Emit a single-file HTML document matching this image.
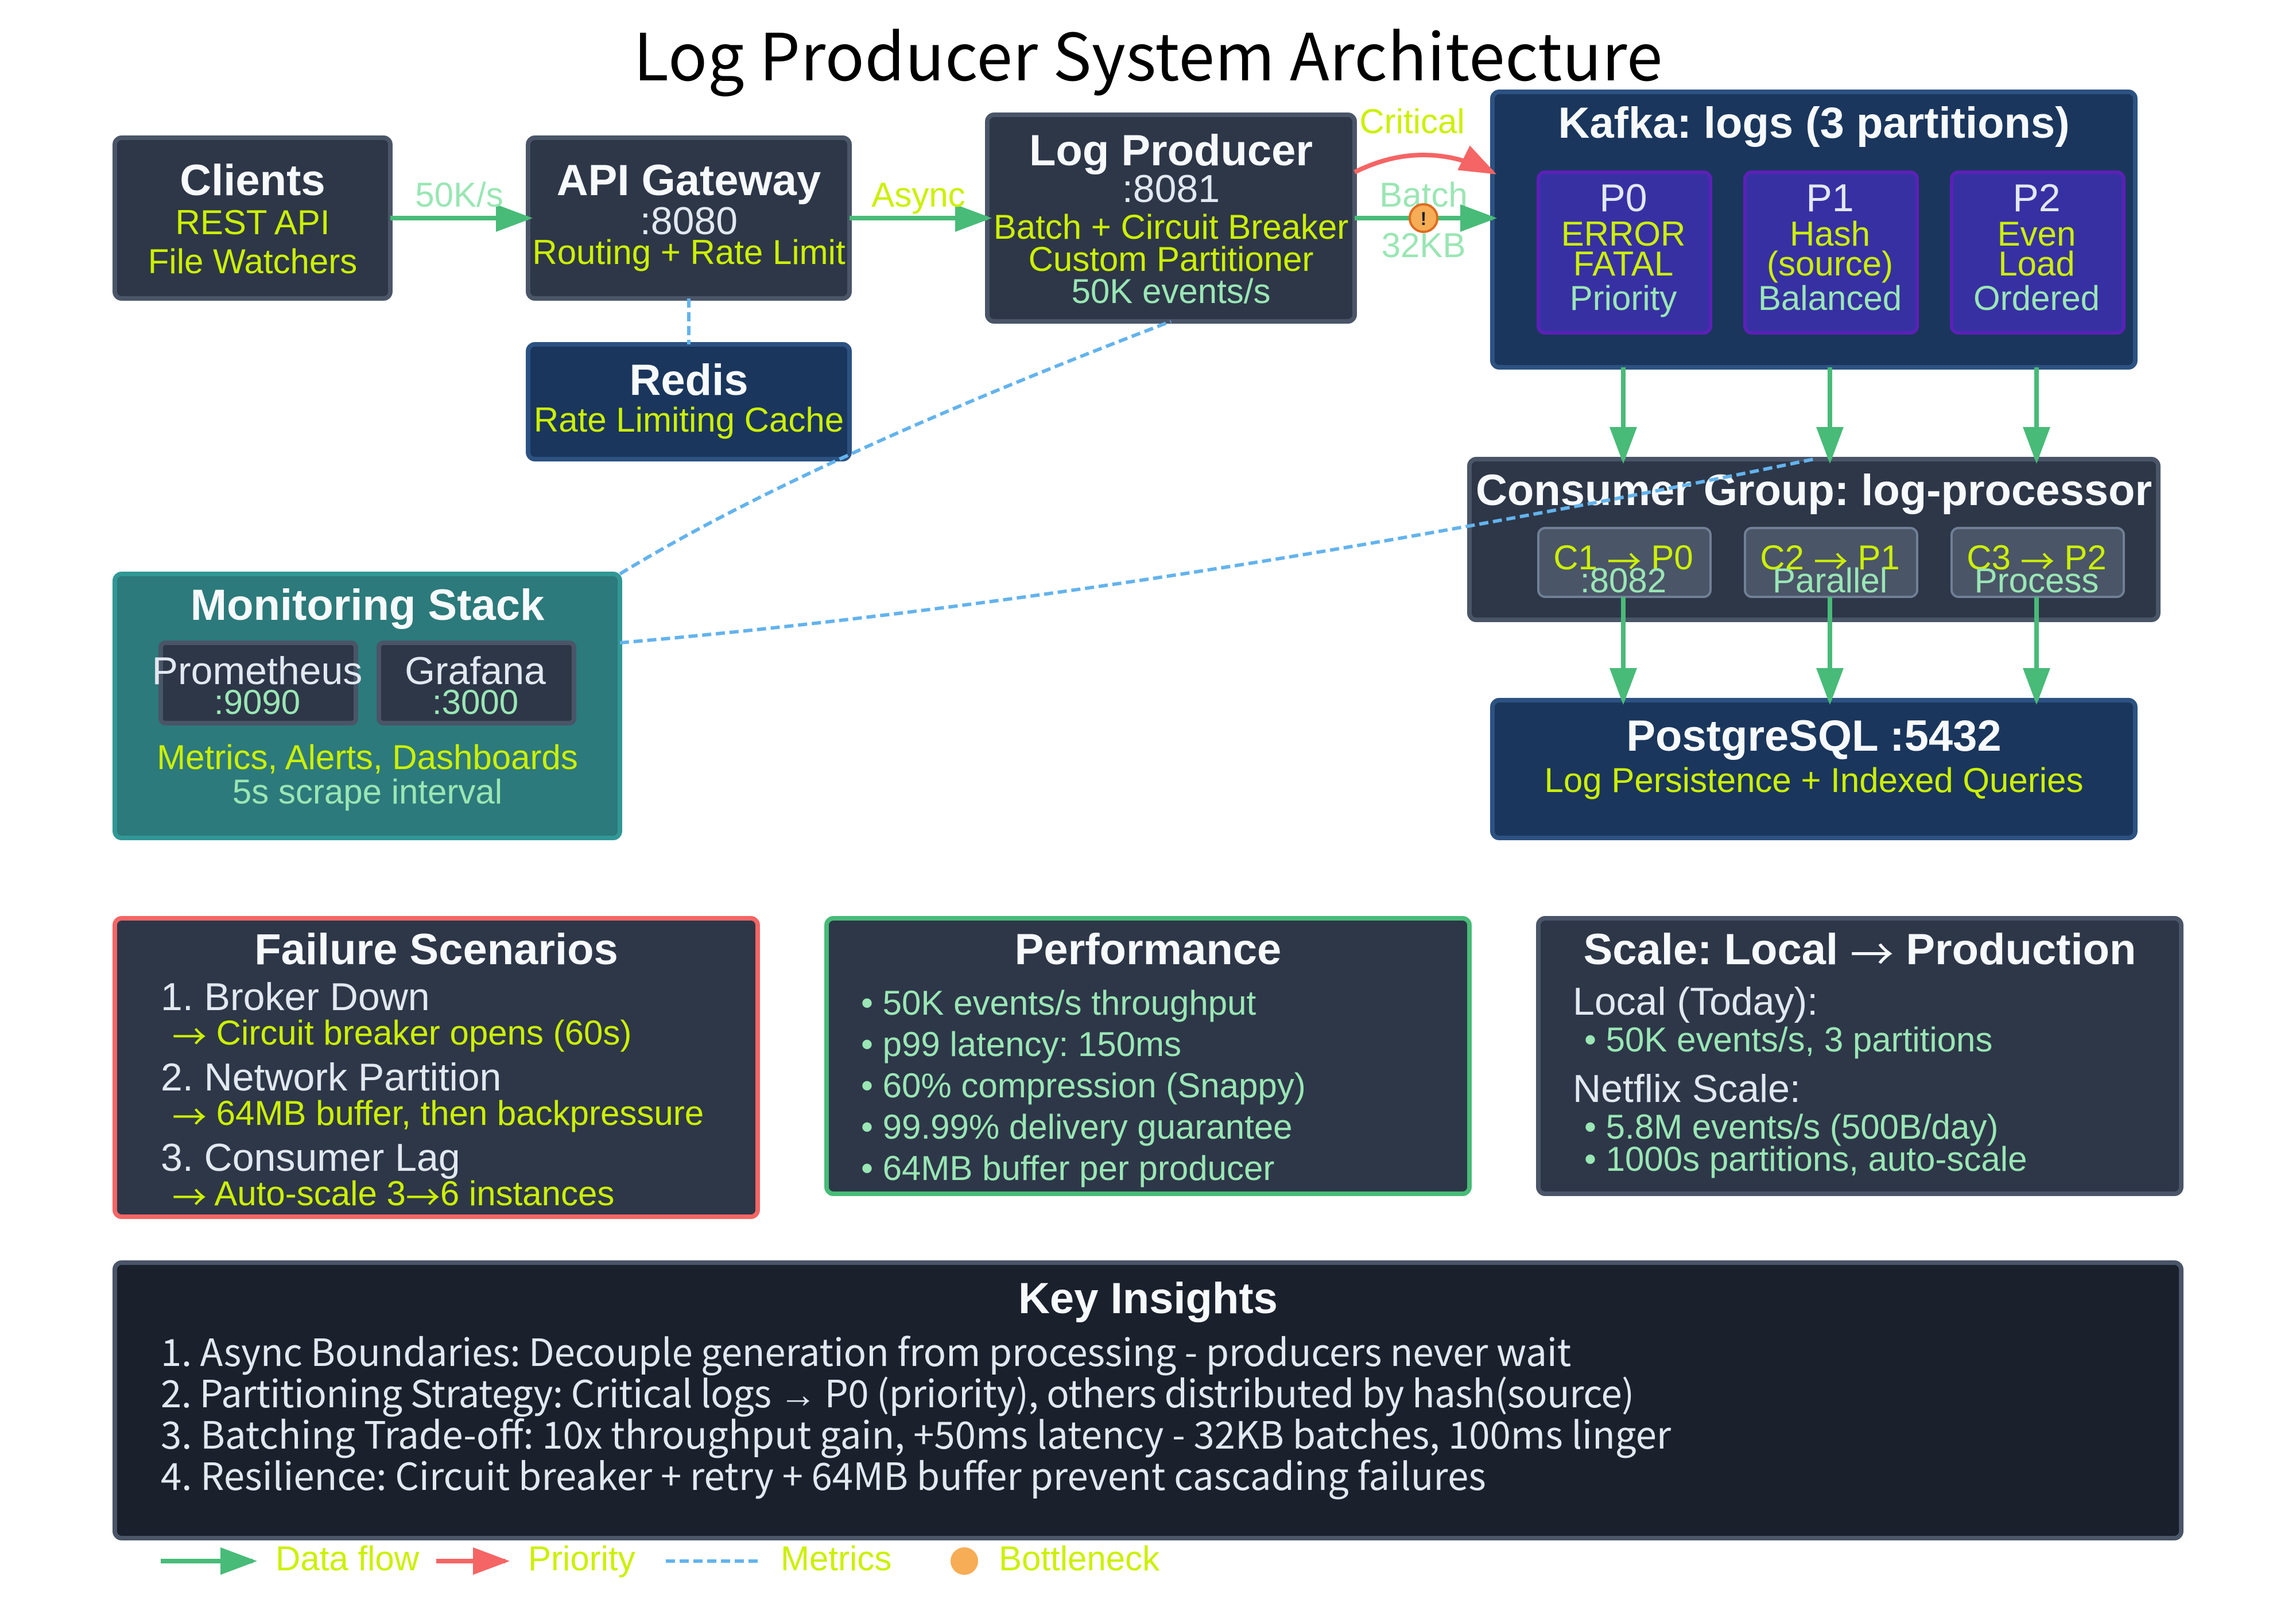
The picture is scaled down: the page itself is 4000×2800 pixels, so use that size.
<!DOCTYPE html>
<html lang="en">
<head>
<meta charset="utf-8">
<title>Log Producer System Architecture</title>
<style>
html,body{margin:0;padding:0;background:#fff;width:4000px;height:2800px;overflow:hidden}
svg{display:block}
text{font-family:"Liberation Sans",Arial,sans-serif}
.m{text-anchor:middle}
.noto{font-family:"Noto Sans CJK SC","Liberation Sans",sans-serif}
.ki{font-family:"Noto Sans CJK SC","Liberation Sans",sans-serif;font-size:16.3px;fill:#e2e8f0}
.lib{font-family:"Liberation Sans",Arial,sans-serif}
.ar{font-family:"Noto Sans CJK SC",sans-serif;font-weight:normal}
.h{font-size:19px;font-weight:bold;fill:#f7fafc}
.s{font-size:17px;fill:#e2e8f0}
.y{font-size:15px;fill:#ccf000}
.g{font-size:15px;fill:#9ae6b4}
.dash{fill:none;stroke:#63b3ed;stroke-width:1.5;stroke-dasharray:4 2}
.arr{stroke:#48bb78;stroke-width:2;fill:none;marker-end:url(#ga)}
.rarr{stroke:#f56565;stroke-width:2;fill:none;marker-end:url(#ra)}
.dk{fill:#2d3748;stroke:#4a5568;stroke-width:2}
.nv{fill:#1a365d;stroke:#2c5282;stroke-width:2}
.pp{fill:#3730a3;stroke:#5b21b6;stroke-width:1.5}
.cb{fill:#4a5568;stroke:#718096;stroke-width:1}
</style>
</head>
<body>
<svg xmlns="http://www.w3.org/2000/svg" width="4000" height="2800" viewBox="0 0 1000 700">
<defs>
<marker id="ga" markerWidth="8" markerHeight="6" refX="7" refY="3" orient="auto"><polygon points="0 0,8 3,0 6" fill="#48bb78"/></marker>
<marker id="ra" markerWidth="8" markerHeight="6" refX="7" refY="3" orient="auto"><polygon points="0 0,8 3,0 6" fill="#f56565"/></marker>
</defs>
<rect width="1000" height="700" fill="#fff"/>

<text class="m noto" x="500" y="35" font-size="28.25" textLength="448.2" fill="#000">Log Producer System Architecture</text>

<!-- Clients -->
<rect class="dk" x="50" y="60" width="120" height="70" rx="3"/>
<text class="m h" x="110" y="85">Clients</text>
<text class="m y" x="110" y="102">REST API</text>
<text class="m y" x="110" y="119">File Watchers</text>

<!-- API Gateway -->
<rect class="dk" x="230" y="60" width="140" height="70" rx="3"/>
<text class="m h" x="300" y="85">API Gateway</text>
<text class="m s" x="300" y="102">:8080</text>
<text class="m y" x="300" y="115">Routing + Rate Limit</text>

<!-- Redis -->
<rect class="nv" x="230" y="150" width="140" height="50" rx="3"/>
<text class="m h" x="300" y="172">Redis</text>
<text class="m y" x="300" y="188">Rate Limiting Cache</text>

<!-- Log Producer -->
<rect class="dk" x="430" y="50" width="160" height="90" rx="3"/>
<text class="m h" x="510" y="72">Log Producer</text>
<text class="m s" x="510" y="88">:8081</text>
<text class="m y" x="510" y="104">Batch + Circuit Breaker</text>
<text class="m y" x="510" y="118">Custom Partitioner</text>
<text class="m g" x="510" y="132">50K events/s</text>

<!-- Kafka -->
<rect class="nv" x="650" y="40" width="280" height="120" rx="3"/>
<text class="m h" x="790" y="60">Kafka: logs (3 partitions)</text>
<rect class="pp" x="670" y="75" width="75" height="70" rx="3"/>
<text class="m s" x="707" y="92">P0</text>
<text class="m y" x="707" y="107">ERROR</text>
<text class="m y" x="707" y="120">FATAL</text>
<text class="m g" x="707" y="135">Priority</text>
<rect class="pp" x="760" y="75" width="75" height="70" rx="3"/>
<text class="m s" x="797" y="92">P1</text>
<text class="m y" x="797" y="107">Hash</text>
<text class="m y" x="797" y="120">(source)</text>
<text class="m g" x="797" y="135">Balanced</text>
<rect class="pp" x="850" y="75" width="75" height="70" rx="3"/>
<text class="m s" x="887" y="92">P2</text>
<text class="m y" x="887" y="107">Even</text>
<text class="m y" x="887" y="120">Load</text>
<text class="m g" x="887" y="135">Ordered</text>

<!-- Consumer Group -->
<rect class="dk" x="640" y="200" width="300" height="70" rx="3"/>
<text class="m h" x="790" y="220">Consumer Group: log-processor</text>
<rect class="cb" x="670" y="230" width="75" height="30" rx="3"/>
<text class="m y" x="707" y="248">C1 <tspan class="ar" dy=".14em">→</tspan><tspan dy="-.14em"> P0</tspan></text>
<text class="m g" x="707" y="258">:8082</text>
<rect class="cb" x="760" y="230" width="75" height="30" rx="3"/>
<text class="m y" x="797" y="248">C2 <tspan class="ar" dy=".14em">→</tspan><tspan dy="-.14em"> P1</tspan></text>
<text class="m g" x="797" y="258">Parallel</text>
<rect class="cb" x="850" y="230" width="75" height="30" rx="3"/>
<text class="m y" x="887" y="248">C3 <tspan class="ar" dy=".14em">→</tspan><tspan dy="-.14em"> P2</tspan></text>
<text class="m g" x="887" y="258">Process</text>

<!-- PostgreSQL -->
<rect class="nv" x="650" y="305" width="280" height="60" rx="3"/>
<text class="m h" x="790" y="327">PostgreSQL :5432</text>
<text class="m y" x="790" y="345">Log Persistence + Indexed Queries</text>

<!-- Monitoring -->
<rect x="50" y="250" width="220" height="115" rx="3" fill="#2c7a7b" stroke="#319795" stroke-width="2"/>
<text class="m h" x="160" y="270">Monitoring Stack</text>
<rect class="dk" x="70" y="280" width="85" height="35" rx="2"/>
<text class="m s" x="112" y="298">Prometheus</text>
<text class="m g" x="112" y="311">:9090</text>
<rect class="dk" x="165" y="280" width="85" height="35" rx="2"/>
<text class="m s" x="207" y="298">Grafana</text>
<text class="m g" x="207" y="311">:3000</text>
<text class="m y" x="160" y="335">Metrics, Alerts, Dashboards</text>
<text class="m g" x="160" y="350">5s scrape interval</text>

<!-- Failure -->
<rect x="50" y="400" width="280" height="130" rx="3" fill="#2d3748" stroke="#f56565" stroke-width="2"/>
<text class="m h" x="190" y="420">Failure Scenarios</text>
<text class="s" x="70" y="440">1. Broker Down</text>
<text class="y" x="75" y="455"><tspan class="ar" dy=".14em">→</tspan><tspan dy="-.14em"> Circuit breaker opens (60s)</tspan></text>
<text class="s" x="70" y="475">2. Network Partition</text>
<text class="y" x="75" y="490"><tspan class="ar" dy=".14em">→</tspan><tspan dy="-.14em"> 64MB buffer, then backpressure</tspan></text>
<text class="s" x="70" y="510">3. Consumer Lag</text>
<text class="y" x="75" y="525"><tspan class="ar" dy=".14em">→</tspan><tspan dy="-.14em"> Auto-scale 3</tspan><tspan class="ar" dy=".14em">→</tspan><tspan dy="-.14em">6 instances</tspan></text>

<!-- Performance -->
<rect x="360" y="400" width="280" height="120" rx="3" fill="#2d3748" stroke="#48bb78" stroke-width="2"/>
<text class="m h" x="500" y="420">Performance</text>
<text class="g" x="375" y="442">• 50K events/s throughput</text>
<text class="g" x="375" y="460">• p99 latency: 150ms</text>
<text class="g" x="375" y="478">• 60% compression (Snappy)</text>
<text class="g" x="375" y="496">• 99.99% delivery guarantee</text>
<text class="g" x="375" y="514">• 64MB buffer per producer</text>

<!-- Scale -->
<rect class="dk" x="670" y="400" width="280" height="120" rx="3"/>
<text class="m h" x="810" y="420">Scale: Local <tspan class="ar" dy=".14em">→</tspan><tspan dy="-.14em"> Production</tspan></text>
<text class="s" x="685" y="442">Local (Today):</text>
<text class="g" x="690" y="458">• 50K events/s, 3 partitions</text>
<text class="s" x="685" y="480">Netflix Scale:</text>
<text class="g" x="690" y="496">• 5.8M events/s (500B/day)</text>
<text class="g" x="690" y="510">• 1000s partitions, auto-scale</text>

<!-- Key Insights -->
<rect x="50" y="550" width="900" height="120" rx="3" fill="#1a202c" stroke="#4a5568" stroke-width="2"/>
<text class="m h" x="500" y="572">Key Insights</text>
<text class="ki" x="70" y="595" textLength="614.3">1. Async Boundaries: Decouple generation from processing - producers never wait</text>
<text class="ki" x="70" y="613" textLength="641.8">2. Partitioning Strategy: Critical logs <tspan class="lib">→</tspan> P0 (priority), others distributed by hash(source)</text>
<text class="ki" x="70" y="631" textLength="657.8">3. Batching Trade-off: 10x throughput gain, +50ms latency - 32KB batches, 100ms linger</text>
<text class="ki" x="70" y="649" textLength="577.2">4. Resilience: Circuit breaker + retry + 64MB buffer prevent cascading failures</text>

<!-- Arrows and labels -->
<line class="arr" x1="170" y1="95" x2="230" y2="95"/>
<text class="m g" x="200" y="90">50K/s</text>
<line class="arr" x1="370" y1="95" x2="430" y2="95"/>
<text class="m y" x="400" y="90">Async</text>
<path class="rarr" d="M590,75 Q620,60 650,75"/>
<text class="m y" x="615" y="58">Critical</text>
<text class="m g" x="620" y="90">Batch</text>
<text class="m g" x="620" y="112">32KB</text>
<line class="arr" x1="590" y1="95" x2="650" y2="95"/>
<circle cx="620" cy="95" r="6" fill="#f6ad55" stroke="#dd6b20" stroke-width="1"/>
<text class="m" x="620" y="98" font-size="8" font-weight="bold" fill="#1a202c">!</text>

<line class="arr" x1="707" y1="160" x2="707" y2="200"/>
<line class="arr" x1="797" y1="160" x2="797" y2="200"/>
<line class="arr" x1="887" y1="160" x2="887" y2="200"/>
<line class="arr" x1="707" y1="260" x2="707" y2="305"/>
<line class="arr" x1="797" y1="260" x2="797" y2="305"/>
<line class="arr" x1="887" y1="260" x2="887" y2="305"/>

<!-- Dashed metrics lines -->
<line class="dash" x1="300" y1="130" x2="300" y2="150"/>
<path class="dash" d="M270,250 Q350,201 510,140"/>
<path class="dash" d="M270,280 Q500,260 790,200"/>

<!-- Legend -->
<line class="arr" x1="70" y1="680" x2="110" y2="680"/>
<text class="y" x="120" y="684">Data flow</text>
<line class="rarr" x1="190" y1="680" x2="220" y2="680"/>
<text class="y" x="230" y="684">Priority</text>
<line class="dash" x1="290" y1="680" x2="330" y2="680"/>
<text class="y" x="340" y="684">Metrics</text>
<circle cx="420" cy="680" r="6" fill="#f6ad55"/>
<text class="y" x="435" y="684">Bottleneck</text>
</svg>
</body>
</html>
